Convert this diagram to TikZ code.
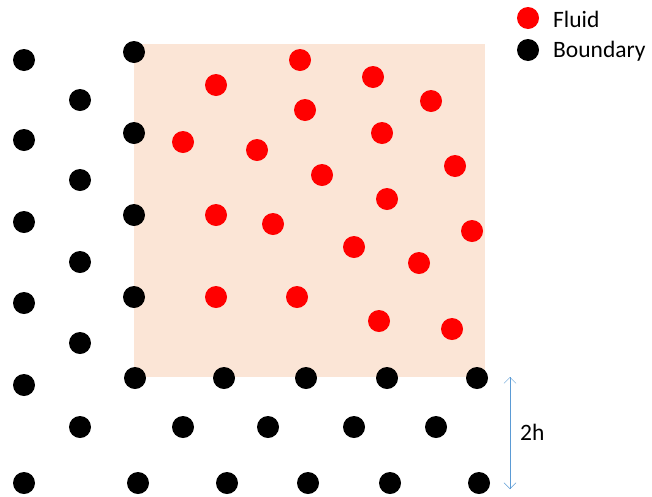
\documentclass[tikz,border=0pt]{standalone}
\usepackage{fontspec}
\setmainfont{Carlito}
\usetikzlibrary{positioning, arrows.meta}
\definecolor{fluidbg}{HTML}{FBE5D6}
\definecolor{arrowblue}{HTML}{5B9BD5}

\begin{document}
\begin{tikzpicture}[x=1pt, y=-1pt,
  every node/.style={font=\fontsize{23.5}{27}\selectfont},
  particle/.style={circle, minimum size=22pt, inner sep=0pt},
  fluidpt/.style={particle, fill=red},
  wallpt/.style={particle, fill=black}]
\useasboundingbox (0,0) rectangle (652,496);

% Fluid domain
\fill[fluidbg] (134,44) rectangle (485,377);

% Fluid particles
\foreach \px/\py [count=\i] in {300/60, 216/85, 305/110, 183/142, 257/150, 322/175,
    373/77, 431/101, 382/133, 455/166, 387/199,
    216/215, 273/224, 216/297, 297/297,
    472/231, 354/247, 419/263, 379/321, 452/329}
  \node[fluidpt] (f\i) at (\px,\py) {};

% Boundary particles: left wall
\foreach \py [count=\i] in {60, 140, 222, 303, 385, 483}
  \node[wallpt] (wa\i) at (24,\py) {};
\foreach \py [count=\i] in {100, 180, 262, 343, 427}
  \node[wallpt] (wb\i) at (80,\py) {};
\foreach \py [count=\i] in {52, 133, 215, 297}
  \node[wallpt] (wc\i) at (134,\py) {};

% Boundary particles: bottom wall
\foreach \px [count=\i] in {135, 224, 306, 387, 477}
  \node[wallpt] (ba\i) at (\px,378) {};
\foreach \px [count=\i] in {183, 268, 354, 436}
  \node[wallpt] (bb\i) at (\px,427) {};
\foreach \px [count=\i] in {138, 227, 308, 390, 479}
  \node[wallpt] (bc\i) at (\px,483) {};

% Legend
\node[fluidpt] (legf) at (528,18) {};
\node[anchor=west, inner sep=0pt] (legftxt) at (553,19) {Fluid};
\node[wallpt] (legb) at (528,50) {};
\node[anchor=west, inner sep=0pt] (legbtxt) at (553,51) {Boundary};

% Support radius
\coordinate (kt) at (510,377);
\coordinate (kb) at (510,489);
\draw[arrowblue, thin, {Straight Barb[length=6pt,width=12pt]}-{Straight Barb[length=6pt,width=12pt]}] (kt) -- (kb);
\node[anchor=west, inner sep=0pt] (klab) at (520,432) {2h};
\end{tikzpicture}
\end{document}
